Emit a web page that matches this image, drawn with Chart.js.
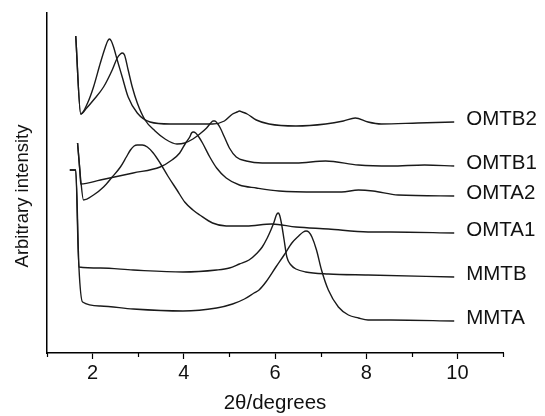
<!DOCTYPE html>
<html>
<head>
<meta charset="utf-8">
<script src="https://cdn.jsdelivr.net/npm/chart.js@4.4.0/dist/chart.umd.min.js"></script>
<style>
  body { margin: 0; background: #fff; }
  canvas { display: block; }
</style>
</head>
<body>
<canvas id="xrdChart" width="545" height="416"></canvas>
<script>
'use strict';

// sample names, top to bottom as they end on the right
const sampleNames = ['OMTB2', 'OMTB1', 'OMTA2', 'OMTA1', 'MMTB', 'MMTA'];

// 2theta (degrees) and intensity (arbitrary units)
const omtb2X = [1.63, 1.74, 1.89, 2.02, 2.17, 2.28, 2.33, 2.37, 2.41, 2.46, 2.54, 2.65, 2.78, 2.98, 3.26, 3.70, 4.20, 4.63, 4.89, 5.07, 5.17, 5.22, 5.28, 5.39, 5.59, 5.87, 6.46, 7.11, 7.50, 7.76, 8.04, 8.33, 9.13, 9.93];
const omtb2Y = [317, 239, 250, 266, 290, 306, 312, 314, 312, 306, 293, 276, 256, 240, 231, 229, 229, 229, 232, 239, 241, 242, 241, 239, 233, 229, 227, 229, 232, 235, 231, 229, 230, 231];

const omtb1X = [1.63, 1.74, 1.87, 2.02, 2.24, 2.43, 2.54, 2.61, 2.65, 2.70, 2.78, 2.87, 2.98, 3.15, 3.37, 3.59, 3.85, 4.02, 4.20, 4.35, 4.50, 4.59, 4.64, 4.68, 4.73, 4.80, 4.89, 5.00, 5.15, 5.37, 5.72, 6.46, 7.11, 7.83, 8.54, 9.28, 9.93];
const omtb1Y = [317, 239, 245, 253, 266, 283, 295, 299, 300, 298, 283, 266, 250, 233, 222, 214, 209, 210, 214, 219, 225, 230, 232, 232, 230, 225, 216, 205, 196, 192, 190, 190, 192, 188, 187, 188, 187];

const omta2X = [1.67, 1.72, 1.74, 2.17, 2.89, 3.48, 3.74, 3.91, 4.04, 4.13, 4.17, 4.21, 4.26, 4.33, 4.41, 4.57, 4.72, 4.93, 5.22, 5.59, 6.09, 6.96, 7.46, 7.83, 8.15, 8.70, 9.93];
const omta2Y = [210, 183, 169, 173, 180, 186, 193, 200, 210, 216, 220, 221, 220, 216, 210, 196, 185, 175, 168, 165, 162, 161, 161, 163, 162, 158, 157];

const omta1X = [1.67, 1.74, 1.80, 2.02, 2.24, 2.43, 2.61, 2.74, 2.83, 2.91, 2.98, 3.09, 3.20, 3.33, 3.48, 3.65, 3.85, 4.02, 4.20, 4.35, 4.63, 4.93, 5.37, 5.93, 6.46, 7.17, 8.04, 8.54, 9.93];
const omta1Y = [210, 173, 153, 158, 166, 176, 186, 196, 203, 207, 208, 208, 206, 200, 190, 177, 163, 151, 143, 138, 130, 127, 127, 129, 126, 124, 121, 121, 120];

const mmtbX = [1.50, 1.63, 1.70, 2.17, 2.89, 3.98, 4.72, 5.00, 5.22, 5.43, 5.61, 5.72, 5.83, 5.91, 5.98, 6.03, 6.07, 6.10, 6.14, 6.20, 6.26, 6.35, 6.46, 6.67, 7.17, 8.04, 9.93];
const mmtbY = [183, 183, 86, 85, 83, 81, 83, 85, 89, 93, 100, 106, 115, 123, 131, 138, 140, 138, 130, 113, 96, 88, 84, 81, 79, 78, 76];

const mmtaX = [1.50, 1.63, 1.70, 1.78, 2.17, 2.89, 3.98, 4.72, 5.07, 5.33, 5.54, 5.65, 5.80, 6.02, 6.20, 6.37, 6.52, 6.62, 6.68, 6.74, 6.81, 6.91, 7.02, 7.17, 7.39, 7.61, 7.83, 8.04, 8.54, 9.93];
const mmtaY = [183, 183, 86, 51, 47, 44, 42, 45, 49, 54, 60, 63, 71, 86, 98, 110, 117, 121, 122, 121, 116, 103, 83, 63, 46, 38, 35, 33, 33, 32];

const xTicks = [1, 2, 3, 4, 5, 6, 7, 8, 9, 10, 11];

const allX = [omtb2X, omtb1X, omta2X, omta1X, mmtbX, mmtaX];
const allY = [omtb2Y, omtb1Y, omta2Y, omta1Y, mmtbY, mmtaY];

function toPoints(xs, ys) {
  let pts = [];
  for (let i = 0; i < xs.length; i++) {
    pts.push({ x: xs[i], y: ys[i] });
  }
  return pts;
}

let datasets = [];
for (let i = 0; i < sampleNames.length; i++) {
  datasets.push({
    label: sampleNames[i],
    data: toPoints(allX[i], allY[i]),
    borderColor: '#1a1a1a',
    borderWidth: 1.4,
    pointRadius: 0,
    fill: false,
    cubicInterpolationMode: 'monotone'
  });
}

const fontFamily = '"Liberation Sans", Arial, Helvetica, sans-serif';

// minor ticks, curve names and the y title
const extras = {
  id: 'extras',
  afterDraw(chart) {
    const ctx = chart.ctx;
    const xs = chart.scales.x;
    const ys = chart.scales.y;
    const area = chart.chartArea;

    ctx.save();
    ctx.strokeStyle = '#000';
    ctx.lineWidth = 1.2;
    xTicks.forEach(v => {
      if (v % 2 === 1) {
        let px = Math.round(xs.getPixelForValue(v)) + 0.5;
        ctx.beginPath();
        ctx.moveTo(px, area.bottom);
        ctx.lineTo(px, area.bottom + 4);
        ctx.stroke();
      }
    });

    ctx.fillStyle = '#111';
    ctx.font = '20.5px ' + fontFamily;
    ctx.textAlign = 'left';
    ctx.textBaseline = 'middle';
    chart.data.datasets.forEach(ds => {
      let last = ds.data[ds.data.length - 1];
      ctx.fillText(ds.label, xs.getPixelForValue(last.x) + 12, ys.getPixelForValue(last.y) - 3);
    });

    ctx.translate(23, (area.top + area.bottom) / 2 + 13);
    ctx.rotate(-Math.PI / 2);
    ctx.textAlign = 'center';
    ctx.font = '18.5px ' + fontFamily;
    ctx.fillText('Arbitrary intensity', 0, 0);
    ctx.restore();
  }
};

new Chart(document.getElementById('xrdChart'), {
  type: 'line',
  data: { datasets: datasets },
  options: {
    responsive: false,
    animation: false,
    layout: { padding: { top: 13, right: 42, left: 0, bottom: 0 } },
    plugins: {
      legend: { display: false },
      tooltip: { enabled: false }
    },
    scales: {
      x: {
        type: 'linear',
        min: 1,
        max: 11,
        afterBuildTicks: scale => {
          scale.ticks = xTicks.map(v => ({ value: v }));
        },
        afterFit: scale => { scale.height = 63; },
        ticks: {
          autoSkip: false,
          maxRotation: 0,
          padding: 2,
          color: '#111',
          font: { family: fontFamily, size: 20 },
          callback: v => (v % 2 === 0 ? String(v) : '')
        },
        grid: {
          drawOnChartArea: false,
          drawTicks: true,
          tickLength: 6,
          tickWidth: 1.2,
          tickColor: c => (c.tick && c.tick.value % 2 === 0 ? '#000' : 'rgba(0,0,0,0)')
        },
        border: { display: true, color: '#000', width: 1.5 },
        title: {
          display: true,
          text: '2θ/degrees',
          color: '#111',
          font: { family: fontFamily, size: 20.5 },
          padding: { top: 0, bottom: 0 }
        }
      },
      y: {
        min: 0,
        max: 340,
        afterFit: scale => { scale.width = 47; },
        ticks: { display: false },
        grid: { display: false },
        border: { display: true, color: '#000', width: 1.5 }
      }
    }
  },
  plugins: [extras]
});
</script>
</body>
</html>
